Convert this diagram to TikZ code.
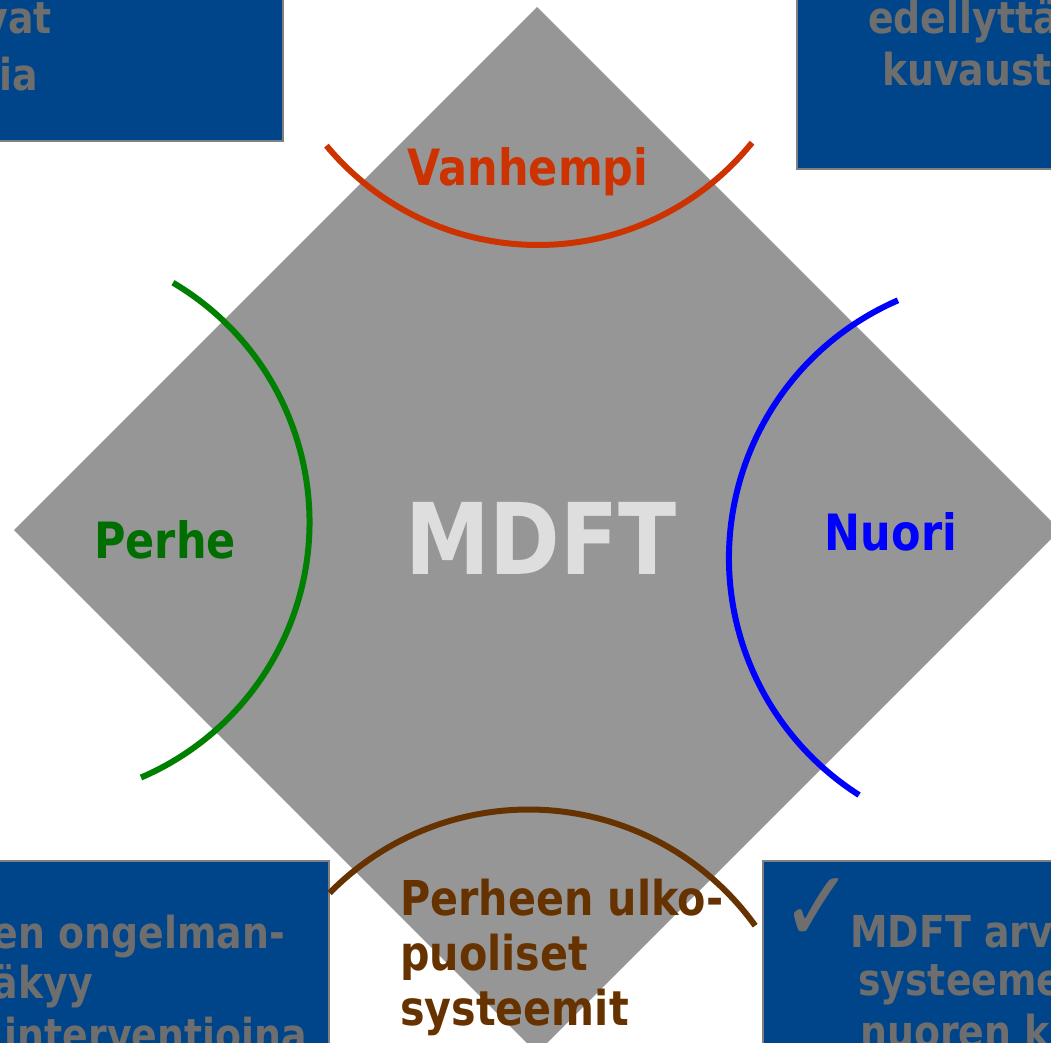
\documentclass[tikz,border=0pt]{standalone}
\usepackage{fontspec}
\setmainfont{DejaVu Sans}[FakeStretch=0.86]
\usetikzlibrary{positioning}

\definecolor{slidegray}{RGB}{150,150,150}
\definecolor{boxblue}{RGB}{0,69,138}
\definecolor{boxtext}{RGB}{110,110,110}
\definecolor{vancol}{RGB}{204,51,0}
\definecolor{percol}{RGB}{0,110,0}
\definecolor{perarc}{RGB}{0,128,0}
\definecolor{nuocol}{RGB}{0,0,255}
\definecolor{ulkcol}{RGB}{102,51,0}

\begin{document}
\begin{tikzpicture}[
  x=1pt, y=1pt,
  font=\bfseries,
  panel/.style={draw=black!50, line width=2pt, fill=boxblue},
  boxline/.style={text=boxtext, inner sep=0pt, font=\bfseries\fontsize{44}{51}\selectfont},
  role/.style={inner sep=0pt, font=\bfseries\fontsize{50}{55}\selectfont},
  ring/.style={line width=6pt},
]
  \useasboundingbox (0,0) rectangle (1051,-1042);
  \clip (0,0) rectangle (1051,-1042);

  % the diamond
  \fill[slidegray] (537,-7) -- (1060,-530) -- (537,-1053) -- (14,-530) -- cycle;

  % corner boxes (cut by the frame)
  \draw[panel] (-10,10) rectangle (283,-141);
  \draw[panel] (797,10) rectangle (1070,-169);
  \draw[panel] (-10,-861) rectangle (329,-1060);
  \draw[panel] (763,-861) rectangle (1070,-1060);

  \node[boxline, anchor=base east] (tl1) at (52,-33) {vat};
  \node[boxline, anchor=base west] (tl2) at (-1,-90) {ia};
  \node[boxline, anchor=base west] (tr1) at (868,-33) {edellyttä};
  \node[boxline, anchor=base west] (tr2) at (882,-85) {kuvaust};
  \node[boxline, anchor=base east] (bl1) at (285,-948) {en ongelman-};
  \node[boxline, anchor=base east] (bl2) at (93,-998) {äkyy};
  \node[boxline, anchor=base east] (bl3) at (307,-1050) {interventioina};
  \node[boxline, anchor=base west] (br1) at (850,-947) {MDFT arv};
  \node[boxline, anchor=base west] (br2) at (858,-995) {systeeme};
  \node[boxline, anchor=base west] (br3) at (860,-1047) {nuoren k};
  \node[text=boxtext, inner sep=0pt, font=\fontsize{100}{100}\selectfont] (check) at (818,-910) {✓};

  % arcs round the four sides
  \draw[ring, vancol] (538,30) ++(219.7:275pt) arc[start angle=219.7, end angle=321.1, radius=275pt];
  \draw[ring, perarc] (31.5,-522) ++(59.4:278pt) arc[start angle=59.4, end angle=-66.8, radius=278pt];
  \draw[ring, nuocol] (1010,-558) ++(113.5:281pt) arc[start angle=113.5, end angle=237.5, radius=281pt];
  \draw[ring, ulkcol] (528.6,-1088.5) ++(135.5:279pt) arc[start angle=135.5, end angle=35.7, radius=279pt];

  % labels
  \node[role, text=vancol, anchor=base] (van) at (528,-185) {Vanhempi};
  \node[role, text=percol, anchor=base] (perhe) at (165,-558) {Perhe};
  \node[role, text=nuocol, anchor=base] (nuori) at (891,-550) {Nuori};
  \node[inner sep=0pt, text=black!13, anchor=base, font=\bfseries\fontsize{99}{99}\selectfont] (mdft) at (541,-574) {MDFT};
  \node[inner sep=0pt, text=ulkcol, anchor=north west, align=left,
        font=\bfseries\fontsize{48}{55}\selectfont] (ulko) at (400,-879)
    {Perheen ulko-\\puoliset\\systeemit};
\end{tikzpicture}
\end{document}
